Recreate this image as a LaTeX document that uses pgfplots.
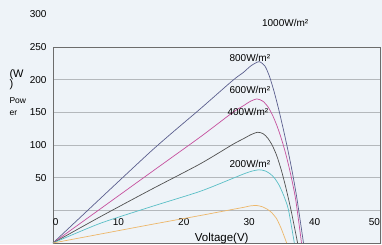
\documentclass[border=0pt]{standalone}
\usepackage{fontspec}
\setmainfont{Liberation Sans}
\usepackage{pgfplots}
\pgfplotsset{compat=1.18}
\definecolor{bgc}{HTML}{EEF3F8}
\definecolor{c800}{HTML}{5B5F8E}
\definecolor{c600}{HTML}{C6509E}
\definecolor{c400}{HTML}{505050}
\definecolor{c200}{HTML}{5ABFC6}
\definecolor{cor}{HTML}{EDB76A}
\definecolor{gridc}{HTML}{B4B8BC}
\begin{document}
\begin{tikzpicture}
\path[use as bounding box, fill=bgc] (-53pt,-1pt) rectangle (329pt,243pt);
\begin{axis}[
  at={(0pt,0pt)}, anchor=south west,
  scale only axis, width=327pt, height=196pt,
  xmin=0, xmax=50, ymin=-50, ymax=250,
  clip=false,
  axis background/.style={fill=bgc},
  axis line style={draw=gray!85!black, line width=0.8pt},
  major tick length=0pt,
  xtick={0,10,20,30,40,50},
  xticklabels={\makebox[0pt][l]{0},10,20,30,40,\makebox[0pt][r]{50}},
  xticklabel style={anchor=north, yshift=28pt, font=\fontsize{10}{10}\selectfont},
  ytick={0,50,100,150,200,250},
  yticklabels={,50,100,150,200,250},
  yticklabel style={anchor=east, xshift=-3pt, font=\fontsize{10}{10}\selectfont},
  ymajorgrids, grid style={draw=gridc, line width=0.8pt},
  every axis plot/.append style={line width=0.7pt, smooth, tension=0.4},
]
\addplot[c800] coordinates {(0,-50) (14.83,89) (22.48,155) (27.5,199) (29.1,211) (30.3,221.5) (31.5,227.5) (32.4,221) (33.1,205) (33.8,182) (34.5,155) (35.2,125) (35.9,93) (36.6,58) (37.3,18) (38.3,-50)};
\addplot[c600] coordinates {(0,-50) (14.83,57) (22.48,112) (27.5,150) (29.1,160) (30.2,167) (31.2,170.5) (32.1,167) (32.9,158) (33.6,145) (34.3,128) (35.0,107) (35.6,86) (36.3,57) (37.1,17) (38.0,-50)};
\addplot[c400] coordinates {(0,-50) (7.19,-10) (14.83,31) (22.48,71) (27.5,101) (29.1,109.5) (30.3,116) (31.3,119.5) (32.1,117.5) (32.8,111) (33.5,100) (34.2,84) (34.9,62) (35.6,35) (36.4,0) (37.4,-50)};
\addplot[c200] coordinates {(0,-50) (7.19,-20) (14.83,5) (22.48,29) (27.5,49) (29.1,55.5) (30.4,60) (31.5,62) (32.4,60.5) (33.2,56) (33.9,49) (34.6,38) (35.3,22) (36.0,1) (36.9,-50)};
\addplot[cor] coordinates {(0,-50) (14.83,-22) (22.48,-8) (27.5,1.5) (29.1,4.5) (30.3,7) (31.2,7.3) (32.0,5.5) (32.8,1.5) (33.44,-3.5) (34.2,-13) (34.9,-28) (35.73,-50)};
\node[font=\fontsize{10}{10}\selectfont] at (axis cs:35.5,286.7) {1000W/m²};
\node[font=\fontsize{10}{10}\selectfont] at (axis cs:30.1,233) {800W/m²};
\node[font=\fontsize{10}{10}\selectfont] at (axis cs:30.1,184) {600W/m²};
\node[font=\fontsize{10}{10}\selectfont] at (axis cs:29.8,150.5) {400W/m²};
\node[font=\fontsize{10}{10}\selectfont] at (axis cs:30.1,71) {200W/m²};
\node[anchor=east, xshift=-3pt, font=\fontsize{10}{10}\selectfont] at (axis cs:0,300) {300};
\node[anchor=base, font=\fontsize{11.5}{11.5}\selectfont] at (axis cs:25.8,-48) {Voltage(V)};
\end{axis}
\node[anchor=west, font=\fontsize{11}{11}\selectfont] at (-47pt,168pt) {(W};
\node[anchor=west, font=\fontsize{11}{11}\selectfont] at (-47pt,158pt) {)};
\node[anchor=west, font=\fontsize{8.5}{8.5}\selectfont] at (-47pt,142pt) {Pow};
\node[anchor=west, font=\fontsize{8.5}{8.5}\selectfont] at (-47pt,130pt) {er};
\end{tikzpicture}
\end{document}
